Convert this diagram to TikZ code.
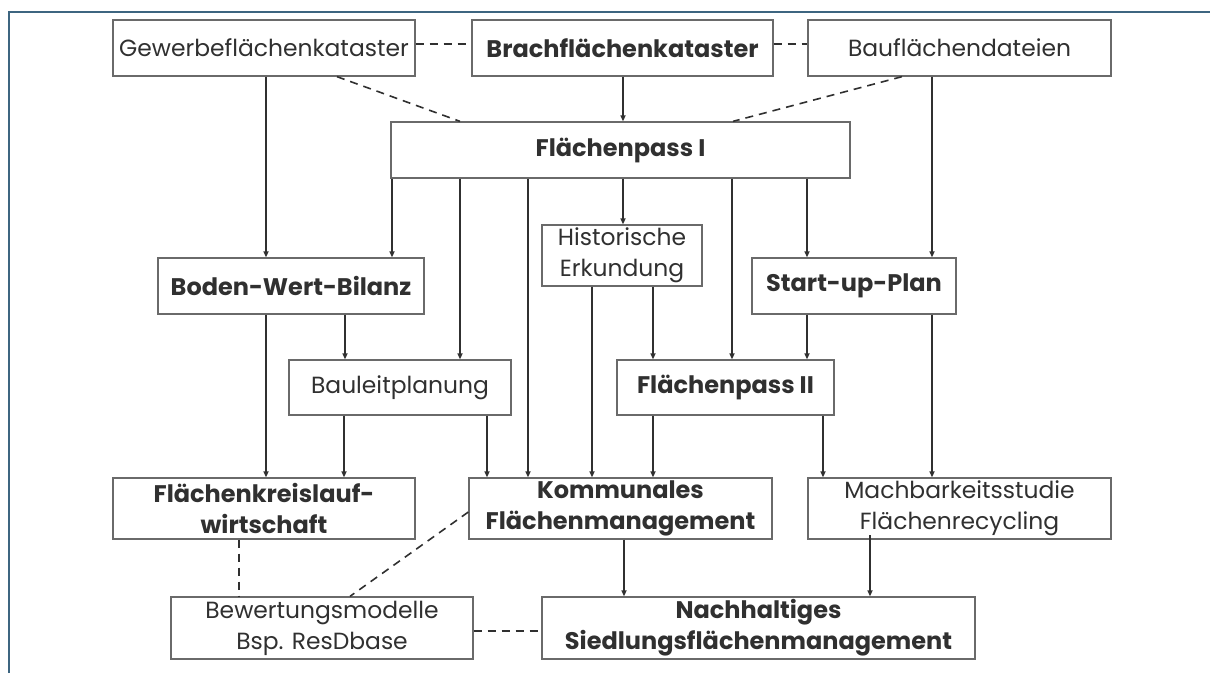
\documentclass[tikz,border=0pt]{standalone}
\usepackage{fontspec}
\setmainfont{Poppins}
\usetikzlibrary{arrows.meta}
\definecolor{ink}{HTML}{303030}
\definecolor{edge}{HTML}{6A6A6A}
\definecolor{frame}{HTML}{3D6580}
\begin{document}
\begin{tikzpicture}[x=1pt,y=-1pt,
  box/.style={draw=edge, line width=1.3pt, fill=white, inner sep=0pt, text=ink,
    align=center, font=\fontsize{23.4}{31}\selectfont},
  boldbox/.style={box, font=\fontsize{24}{31}\selectfont\bfseries},
  arr/.style={draw=ink, line width=1.6pt, -{Triangle[length=6pt,width=5pt]}},
  dsh/.style={draw=ink, line width=1.6pt, dash pattern=on 8pt off 6pt}]
\useasboundingbox (0,0) rectangle (1210,673);
% frame
\draw[frame, line width=2pt] (9,673) -- (9,12) -- (1210,12);

% top row
\node[box, minimum width=302pt, minimum height=56pt] (gew) at (264,48) {Gewerbeflächenkataster};
\node[boldbox, minimum width=301pt, minimum height=56pt] (brach) at (622.5,48) {Brachflächenkataster};
\node[box, minimum width=303pt, minimum height=56pt] (bau) at (959.5,48) {Bauflächendateien};
\node[boldbox, minimum width=459pt, minimum height=56pt] (fp1) at (620.5,150) {Flächenpass I};

% middle rows
\node[boldbox, minimum width=266pt, minimum height=56pt] (bwb) at (291,286) {Boden-Wert-Bilanz};
\node[box, minimum width=160pt, minimum height=61pt] (hist) at (622,255.5) {Historische\\Erkundung};
\node[boldbox, minimum width=204pt, minimum height=56pt] (sup) at (854,286) {Start-up-Plan};
\node[box, minimum width=222pt, minimum height=55pt] (blp) at (400,387.5) {Bauleitplanung};
\node[boldbox, minimum width=217pt, minimum height=55pt] (fp2) at (725.5,387.5) {Flächenpass II};

% lower rows
\node[boldbox, minimum width=302pt, minimum height=61pt] (fkw) at (264,508.5) {Flächenkreislauf-\\wirtschaft};
\node[boldbox, minimum width=303pt, minimum height=61pt] (kfm) at (620.5,508.5) {Kommunales\\Flächenmanagement};
\node[box, minimum width=303pt, minimum height=61pt] (mfr) at (959.5,508.5) {Machbarkeitsstudie\\Flächenrecycling};
\node[box, minimum width=302pt, minimum height=62pt] (bew) at (322,628) {Bewertungsmodelle\\Bsp. ResDbase};
\node[boldbox, minimum width=433pt, minimum height=62pt] (nsm) at (758.5,628) {Nachhaltiges\\Siedlungsflächenmanagement};

% solid connectors
\draw[arr] (gew.south -| 266,0) -- (bwb.north -| 266,0);
\draw[arr] (brach.south -| 623,0) -- (fp1.north -| 623,0);
\draw[arr] (bau.south -| 932,0) -- (sup.north -| 932,0);
\draw[arr] (fp1.south -| 392,0) -- (bwb.north -| 392,0);
\draw[arr] (fp1.south -| 460,0) -- (blp.north -| 460,0);
\draw[arr] (fp1.south -| 528,0) -- (kfm.north -| 528,0);
\draw[arr] (fp1.south -| 623,0) -- (hist.north -| 623,0);
\draw[arr] (fp1.south -| 732,0) -- (fp2.north -| 732,0);
\draw[arr] (fp1.south -| 807,0) -- (sup.north -| 807,0);
\draw[arr] (bwb.south -| 266,0) -- (fkw.north -| 266,0);
\draw[arr] (bwb.south -| 345,0) -- (blp.north -| 345,0);
\draw[arr] (hist.south -| 592,0) -- (kfm.north -| 592,0);
\draw[arr] (hist.south -| 653,0) -- (fp2.north -| 653,0);
\draw[arr] (sup.south -| 807,0) -- (fp2.north -| 807,0);
\draw[arr] (sup.south -| 932,0) -- (mfr.north -| 932,0);
\draw[arr] (blp.south -| 344,0) -- (fkw.north -| 344,0);
\draw[arr] (blp.south -| 487,0) -- (kfm.north -| 487,0);
\draw[arr] (fp2.south -| 653,0) -- (kfm.north -| 653,0);
\draw[arr] (fp2.south -| 823,0) -- (mfr.north -| 823,0);
\draw[arr] (kfm.south -| 624,0) -- (nsm.north -| 624,0);
\draw[arr] (870,535) -- (nsm.north -| 870,0);

% dashed relations
\draw[dsh] (gew.east |- 0,44) -- (brach.west |- 0,44);
\draw[dsh] (brach.east |- 0,44) -- (bau.west |- 0,44);
\draw[dsh] (gew.south -| 337,0) -- (fp1.north -| 460,0);
\draw[dsh] (bau.south -| 902,0) -- (fp1.north -| 733,0);
\draw[dsh] (fkw.south -| 239,0) -- (bew.north -| 239,0);
\draw[dsh] (kfm.west |- 0,512) -- (bew.north -| 350,0);
\draw[dsh] (bew.east |- 0,631) -- (nsm.west |- 0,631);
\end{tikzpicture}
\end{document}
